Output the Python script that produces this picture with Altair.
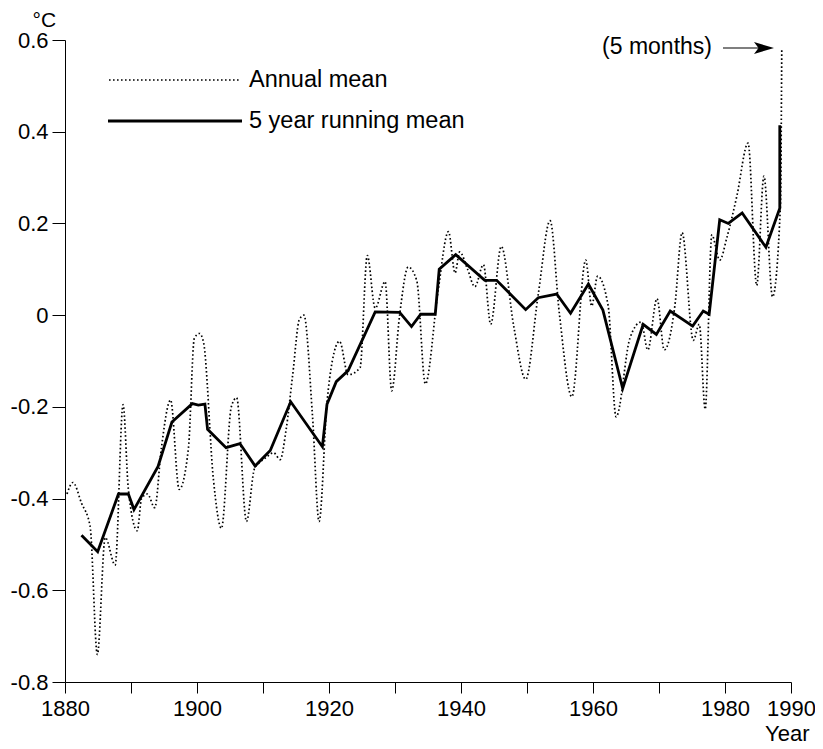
import altair as alt
import pandas as pd

# Annual mean (dotted) - decimal year positions
annual_year = [1880.3, 1881.2, 1882.5, 1883.8, 1884.9, 1886.1, 1887.6, 1888.8, 1889.6, 1890.95,
               1891.6, 1892.5, 1893.6, 1894.6, 1896.0, 1897.3, 1898.7, 1899.6, 1900.4, 1901.0,
               1902.5, 1903.7, 1905.2, 1906.0, 1907.5, 1908.7, 1909.6, 1910.5, 1911.6, 1912.6,
               1913.5, 1914.5, 1915.5, 1916.2, 1917.5, 1918.5, 1919.7, 1920.5, 1921.6, 1922.9,
               1924.7, 1925.8, 1927.0, 1928.5, 1929.5, 1930.7, 1932.0, 1933.3, 1934.6, 1936.5,
               1938.1, 1939.1, 1939.8, 1941.0, 1942.1, 1943.4, 1944.5, 1946.1, 1948.0, 1949.8,
               1951.7, 1953.5, 1954.9, 1956.8, 1958.9, 1959.8, 1960.7, 1962.3, 1963.5, 1965.6,
               1967.3, 1968.3, 1969.7, 1970.8, 1972.4, 1973.5, 1975.2, 1976.1, 1977.0, 1978.0,
               1979.2, 1980.3, 1981.8, 1983.5, 1984.8, 1985.9, 1987.2, 1988.4, 1988.6]
annual_temp = [-0.39, -0.365, -0.41, -0.46, -0.74, -0.485, -0.545, -0.195, -0.38, -0.47,
               -0.40, -0.39, -0.42, -0.29, -0.185, -0.38, -0.29, -0.05, -0.04, -0.06,
               -0.36, -0.465, -0.20, -0.18, -0.45, -0.335, -0.32, -0.31, -0.30, -0.315,
               -0.25, -0.13, -0.01, 0.0, -0.22, -0.45, -0.19, -0.10, -0.057, -0.13,
               -0.115, 0.13, 0.015, 0.073, -0.165, 0.0, 0.105, 0.075, -0.15, 0.05,
               0.182, 0.092, 0.138, 0.10, 0.062, 0.11, -0.02, 0.15, -0.025, -0.14,
               0.045, 0.206, 0.004, -0.178, 0.12, 0.02, 0.085, 0.02, -0.222, -0.05,
               -0.015, -0.076, 0.036, -0.076, 0.02, 0.18, -0.055, -0.02, -0.205, 0.175,
               0.12, 0.17, 0.26, 0.375, 0.065, 0.303, 0.04, 0.24, 0.58]

# 5 year running mean (solid)
running_year = [1882.5, 1884.95, 1888.1, 1889.6, 1890.45, 1894.1, 1896.2, 1899.3, 1900.2, 1901.2,
                1901.6, 1904.4, 1906.5, 1908.8, 1911.1, 1914.2, 1919.0, 1919.7, 1921.1, 1922.9,
                1927.0, 1930.7, 1932.5, 1933.9, 1936.1, 1936.7, 1939.2, 1943.6, 1945.4, 1949.8,
                1951.7, 1954.5, 1956.6, 1959.3, 1961.5, 1964.5, 1967.6, 1969.6, 1971.7, 1975.1,
                1976.7, 1977.6, 1979.2, 1980.5, 1982.6, 1986.2, 1988.3, 1988.3]
running_temp = [-0.48, -0.516, -0.39, -0.39, -0.424, -0.33, -0.233, -0.193, -0.196, -0.194,
                -0.249, -0.289, -0.28, -0.329, -0.295, -0.189, -0.287, -0.194, -0.145, -0.121,
                0.007, 0.006, -0.025, 0.002, 0.002, 0.10, 0.132, 0.076, 0.076, 0.012,
                0.038, 0.046, 0.004, 0.068, 0.011, -0.16, -0.02, -0.042, 0.009, -0.024,
                0.009, 0.002, 0.208, 0.20, 0.223, 0.148, 0.233, 0.414]

x_ticks = [1880, 1890, 1900, 1910, 1920, 1930, 1940, 1950, 1960, 1970, 1980, 1990]
y_ticks = [-0.8, -0.6, -0.4, -0.2, 0.0, 0.2, 0.4, 0.6]

legend_labels = ["Annual mean", "5 year running mean"]
note_text = "(5 months)"

FONT = "Liberation Sans"
W, H = 726, 642

annual = pd.DataFrame({"year": annual_year, "temp": annual_temp, "idx": range(len(annual_year))})
running = pd.DataFrame({"year": running_year, "temp": running_temp, "idx": range(len(running_year))})
one = pd.DataFrame({"a": [0]})

x_scale = alt.Scale(domain=[1880, 1990], nice=False, zero=False)
y_scale = alt.Scale(domain=[-0.8, 0.6], nice=False, zero=False)

x_axis = alt.Axis(
    values=x_ticks,
    labelExpr="(datum.value % 20 == 0 || datum.value == 1990) ? format(datum.value, 'd') : ''",
    title="Year", titleX=W + 18, titleY=41, titleAlign="right", titleBaseline="top",
    titleFontWeight="normal", titleFontSize=22, titleFont=FONT,
    grid=False, tickSize=11, tickColor="black", domainColor="black",
    labelFontSize=22, labelFont=FONT, labelColor="black", labelPadding=5,
    labelFlush=False, labelOverlap=False, titleColor="black",
)
y_axis = alt.Axis(
    values=y_ticks,
    labelExpr="datum.value == 0 ? '0' : (datum.value < 0 ? '-' : '') + format(abs(datum.value), '.1f')",
    title="°C", titleAngle=0, titleX=-33, titleY=-31, titleAlign="left", titleBaseline="top",
    titleFontWeight="normal", titleFontSize=21, titleFont=FONT, titleColor="black",
    grid=False, tickSize=13, tickColor="black", domainColor="black",
    labelFontSize=22, labelFont=FONT, labelColor="black", labelPadding=4,
    labelFlush=False, labelOverlap=False,
)

annual_line = alt.Chart(annual).mark_line(
    color="black", strokeWidth=1.7, strokeDash=[1.6, 2.4], interpolate="monotone"
).encode(
    x=alt.X("year:Q", scale=x_scale, axis=x_axis),
    y=alt.Y("temp:Q", scale=y_scale, axis=y_axis),
    order="idx:Q",
)

running_line = alt.Chart(running).mark_line(
    color="black", strokeWidth=2.8, strokeJoin="miter"
).encode(
    x=alt.X("year:Q", scale=x_scale),
    y=alt.Y("temp:Q", scale=y_scale),
    order="idx:Q",
)

# manual legend
leg_dot = alt.Chart(one).mark_rule(color="black", strokeWidth=1.7, strokeDash=[1.6, 2.4]).encode(
    x=alt.value(44), x2=alt.value(176), y=alt.value(40))
leg_solid = alt.Chart(one).mark_rule(color="black", strokeWidth=2.8).encode(
    x=alt.value(43), x2=alt.value(177), y=alt.value(81))
leg_text1 = alt.Chart(pd.DataFrame({"t": [legend_labels[0]]})).mark_text(
    align="left", baseline="middle", fontSize=23.5, font=FONT, color="black").encode(
    x=alt.value(184), y=alt.value(40), text="t:N")
leg_text2 = alt.Chart(pd.DataFrame({"t": [legend_labels[1]]})).mark_text(
    align="left", baseline="middle", fontSize=23.5, font=FONT, color="black").encode(
    x=alt.value(184), y=alt.value(81), text="t:N")

# annotation
note = alt.Chart(pd.DataFrame({"t": [note_text]})).mark_text(
    align="right", baseline="middle", fontSize=23, font=FONT, color="black").encode(
    x=alt.value(647), y=alt.value(7), text="t:N")
arrow_shaft = alt.Chart(one).mark_rule(color="black", strokeWidth=1.2).encode(
    x=alt.value(658), x2=alt.value(700), y=alt.value(8))
arrow_head = alt.Chart(one).mark_point(
    shape="M-1,-0.6L1,0L-1,0.6L-0.55,0Z", filled=True, color="black", size=400, opacity=1
).encode(x=alt.value(699), y=alt.value(8))

chart = alt.layer(
    annual_line, running_line, leg_dot, leg_solid, leg_text1, leg_text2,
    note, arrow_shaft, arrow_head
).properties(
    width=W, height=H,
    autosize=alt.AutoSizeParams(type="none"),
    padding={"left": 57, "top": 32, "right": 24, "bottom": 66},
    background="white",
).configure_view(stroke=None)

chart.save("out.html", embed_options={"renderer": "svg", "actions": False})
